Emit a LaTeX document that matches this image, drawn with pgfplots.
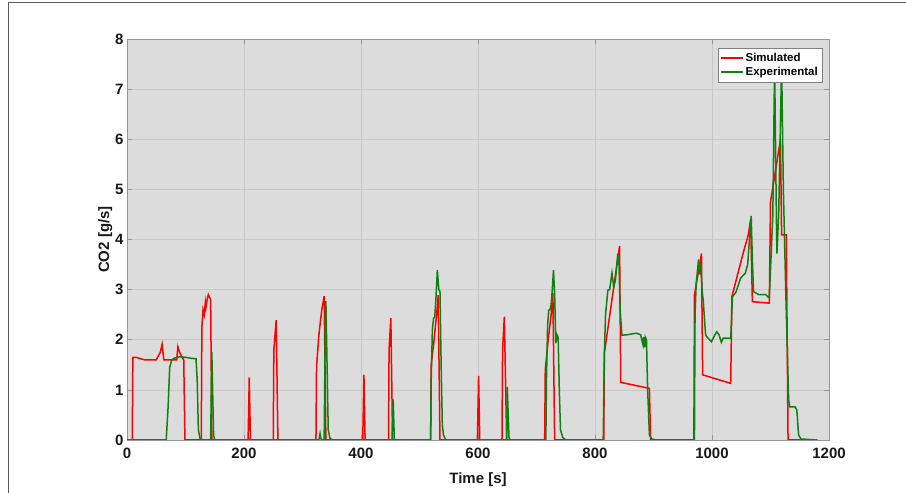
\documentclass[border=0pt]{standalone}
\usepackage{pgfplots}
\pgfplotsset{compat=1.18}
\usepackage{fontspec}
\setmainfont{Liberation Sans}
\definecolor{bgc}{RGB}{220,220,220}
\definecolor{gridc}{RGB}{200,200,200}
\definecolor{axc}{RGB}{150,150,150}
\definecolor{simred}{RGB}{255,0,0}
\definecolor{expgreen}{RGB}{16,128,16}
\begin{document}
\begin{tikzpicture}
\useasboundingbox (0,0) rectangle (906pt,493pt);
\draw[color=black!65, line width=0.9pt] (8pt,0) -- (8pt,490.5pt) -- (906pt,490.5pt);
\begin{axis}[
    name=ax, at={(127pt,53pt)}, anchor=south west,
    width=702pt, height=401pt, scale only axis,
    xmin=0, xmax=1200, ymin=0, ymax=8,
    xtick={0,200,...,1200}, ytick={0,1,...,8},
    grid=major,
    major grid style={draw=gridc, line width=0.6pt},
    axis background/.style={fill=bgc},
    axis line style={draw=axc, line width=0.8pt},
    tick style={draw=axc, line width=0.6pt},
    tick align=inside, major tick length=5pt,
    ticklabel style={font=\fontsize{15}{18}\selectfont\bfseries, text=black!90},
    xticklabel style={yshift=-4pt},
    /pgf/number format/assume math mode=true,
    /pgf/number format/1000 sep={},
    xlabel={Time [s]}, ylabel={CO2 [g/s]},
    label style={font=\fontsize{15}{18}\selectfont\bfseries, text=black!90},
    xlabel style={yshift=-8pt},
    ylabel style={yshift=-4pt},
    legend style={at={(1,1)}, anchor=north east, xshift=-7pt, yshift=-9pt,
        font=\fontsize{11.5}{18}\selectfont\bfseries, draw=black!50, fill=white,
        inner xsep=2pt, inner ysep=3pt, row sep=0pt, cells={anchor=west}},
    legend image code/.code={\draw[#1, line width=1.5pt] (0pt,0pt) -- (22pt,0pt);},
]
\addplot[simred, line width=1.5pt] coordinates {
(0,0) (9,0) (10,1.65) (15,1.65) (30,1.6) (50,1.6) (57,1.75) (60,1.91) (63,1.6)
(85,1.6) (87,1.86) (90,1.75) (94,1.65) (97,1.6) (99,0) (127,0) (128,2.26)
(130,2.6) (132,2.5) (134,2.75) (135,2.65) (137,2.8) (139,2.9) (141,2.85)
(143,2.8) (145,0) (207,0) (209,1.25) (211,0) (250,0) (251,1.8) (255,2.39)
(258,0) (323,0) (324,1.46) (328,2.1) (333,2.6) (337,2.87) (340,0)
(403,0) (405,1.30) (407,0) (447,0) (448,1.8) (451,2.43) (454,0)
(519,0) (520,1.5) (525,2.0) (530,2.6) (532,2.89) (535,0)
(599,0) (601,1.28) (603,0) (641,0) (642,1.8) (645,2.46) (649,0)
(714,0) (715,1.4) (720,2.0) (725,2.5) (728,2.93) (731,0)
(815,0) (816,1.73) (842,3.87) (844,1.15) (893,1.03) (895,0)
(969,0) (970,2.89) (982,3.72) (984,1.30) (1032,1.13) (1034,2.86)
(1054,3.76) (1062,4.09) (1066,4.4) (1069,2.76) (1098,2.73) (1100,4.75)
(1117,5.99) (1119,4.09) (1127,4.09) (1130,0) (1180,0)
};
\addlegendentry{Simulated}
\addplot[expgreen, line width=1.5pt] coordinates {
(0,0) (67,0) (70,0.6) (73,1.45) (76,1.58) (80,1.63) (90,1.66) (100,1.65)
(110,1.63) (118,1.62) (120,1.2) (122,0.2) (125,0.02) (128,0) (143,0)
(145,1.76) (148,0.1) (150,0) (328,0) (330,0.13) (332,0) (337,0) (339,2.3)
(340,2.77) (342,1.5) (344,0.2) (347,0.03) (352,0) (453,0) (455,0.81) (457,0)
(519,0) (520,1.2) (522,2.2) (524,2.43) (526,2.45) (528,2.8) (530.5,3.39)
(533,3.0) (535,2.97) (537,1.5) (539,0.3) (541,0.1) (545,0)
(649,0) (650,1.06) (653,0.05) (655,0) (716,0) (717,1.2) (719,2.3) (721,2.59)
(723,2.6) (725,2.7) (727,3.0) (729,3.39) (731,2.93) (733,1.93) (735,2.1)
(737,2.05) (739,1.0) (741,0.2) (745,0.05) (750,0)
(814,0) (816,1.73) (818,2.5) (822,2.99) (825,3.0) (829,3.33) (832,3.05)
(835,3.2) (839,3.72) (841,3.5) (843,2.6) (846,2.09) (855,2.1) (865,2.12)
(871,2.13) (878,2.1) (882,1.9) (883,2.05) (885,1.85) (886,2.05) (888,2.0)
(890,1.0) (893,0.1) (897,0.02) (905,0)
(970,0) (971,2.5) (973,3.13) (977,3.6) (979,3.3) (981,3.5) (983,3.0)
(985,2.79) (989,2.1) (991,2.06) (999,1.96) (1005,2.1) (1008,2.16) (1012,2.1)
(1016,1.95) (1019,2.03) (1032,2.03) (1035,2.86) (1041,2.95) (1049,3.23)
(1057,3.33) (1061,3.5) (1064,4.0) (1067,4.47) (1069,3.6) (1071,2.96)
(1080,2.9) (1092,2.9) (1096,2.85) (1098,2.85) (1104,4.5) (1107,7.5)
(1110,4.5) (1111,3.72) (1114,4.5) (1119,7.5) (1122,5.0) (1126,3.0)
(1131,0.8) (1133,0.66) (1142,0.66) (1145,0.6) (1148,0.1) (1152,0.02) (1180,0)
};
\addlegendentry{Experimental}
\end{axis}
\end{tikzpicture}
\end{document}
